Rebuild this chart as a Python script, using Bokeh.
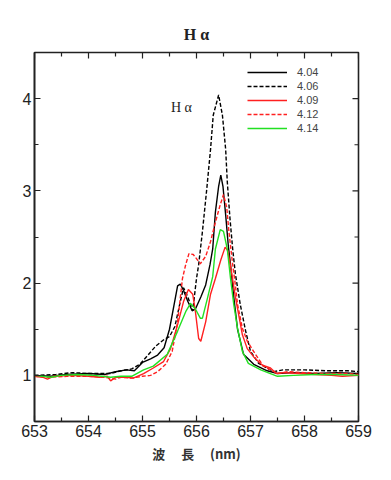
from bokeh.plotting import figure
from bokeh.models import (Range1d, FixedTicker, Legend, LegendItem, Label)
from bokeh.embed import file_html
from bokeh.resources import INLINE

# ---- data -------------------------------------------------------------
wl_404 = [653.0, 653.3, 653.6, 654.0, 654.3, 654.5, 654.7, 654.85, 655.0, 655.15,
          655.28, 655.4, 655.5, 655.58, 655.65, 655.7, 655.76, 655.84, 655.92, 655.98,
          656.08, 656.17, 656.25, 656.30, 656.35, 656.41, 656.45, 656.49, 656.54, 656.59,
          656.63, 656.69, 656.76, 656.87, 657.06, 657.31, 657.5, 657.8, 658.2, 658.6, 659.0]
in_404 = [1.00, 0.99, 1.01, 1.02, 1.01, 1.04, 1.06, 1.05, 1.14, 1.18,
          1.22, 1.30, 1.50, 1.75, 1.97, 1.99, 1.92, 1.80, 1.70, 1.72,
          1.85, 1.98, 2.20, 2.37, 2.77, 3.05, 3.17, 3.05, 2.74, 2.40,
          2.20, 1.85, 1.50, 1.23, 1.12, 1.05, 1.02, 1.03, 1.02, 1.03, 1.02]

wl_406 = [653.0, 653.4, 653.7, 654.0, 654.4, 654.6, 654.8, 654.95, 655.1, 655.25,
          655.4, 655.5, 655.6, 655.7, 655.76, 655.84, 655.93, 656.0, 656.04, 656.11,
          656.19, 656.26, 656.31, 656.41, 656.48, 656.54, 656.57, 656.62, 656.67, 656.72,
          656.81, 656.91, 657.0, 657.15, 657.43, 657.6, 658.0, 658.4, 658.8, 659.0]
in_406 = [1.00, 1.01, 1.03, 1.02, 1.02, 1.05, 1.07, 1.12, 1.22, 1.32,
          1.39, 1.42, 1.53, 1.80, 1.95, 1.85, 1.70, 2.05, 2.20, 2.56,
          3.02, 3.45, 3.82, 4.04, 3.82, 3.45, 3.10, 2.70, 2.37, 2.10,
          1.77, 1.48, 1.26, 1.13, 1.04, 1.06, 1.06, 1.05, 1.05, 1.04]

wl_409 = [653.0, 653.15, 653.24, 653.35, 653.7, 654.0, 654.2, 654.35, 654.41, 654.5,
          654.7, 654.83, 655.02, 655.2, 655.39, 655.52, 655.65, 655.76, 655.85, 655.93,
          655.98, 656.04, 656.08, 656.17, 656.26, 656.35, 656.45, 656.53, 656.58, 656.64,
          656.72, 656.85, 656.94, 657.06, 657.22, 657.37, 657.48, 657.6, 657.9, 658.2,
          658.5, 658.7, 659.0]
in_409 = [0.99, 0.98, 0.96, 0.99, 1.00, 0.99, 0.98, 0.99, 0.94, 0.98,
          0.98, 0.97, 1.02, 1.08, 1.15, 1.29, 1.55, 1.80, 1.93, 1.88,
          1.69, 1.40, 1.37, 1.58, 1.88, 2.05, 2.25, 2.39, 2.35, 2.15,
          1.85, 1.44, 1.29, 1.20, 1.11, 1.08, 1.02, 1.03, 1.02, 1.01,
          1.00, 0.99, 1.00]

wl_412 = [653.0, 653.3, 653.6, 654.0, 654.3, 654.5, 654.6, 654.8, 655.0, 655.15,
          655.28, 655.43, 655.55, 655.65, 655.74, 655.8, 655.86, 655.94, 656.02, 656.07,
          656.17, 656.26, 656.35, 656.44, 656.5, 656.56, 656.6, 656.67, 656.72, 656.76,
          656.85, 656.94, 657.09, 657.24, 657.5, 657.7, 658.0, 658.4, 658.8, 659.0]
in_412 = [0.99, 0.98, 0.99, 0.99, 0.98, 0.96, 0.98, 0.97, 0.99, 1.00,
          1.04, 1.12, 1.26, 1.58, 2.05, 2.20, 2.32, 2.31, 2.25, 2.21,
          2.29, 2.45, 2.66, 2.85, 2.96, 2.82, 2.56, 2.20, 1.98, 1.77,
          1.51, 1.37, 1.23, 1.10, 1.02, 1.04, 1.03, 1.02, 1.02, 1.01]

wl_414 = [653.0, 653.3, 653.5, 653.8, 654.1, 654.41, 654.6, 654.8, 655.02, 655.2,
          655.46, 655.65, 655.8, 655.89, 655.98, 656.07, 656.11, 656.2, 656.3, 656.35,
          656.44, 656.5, 656.57, 656.63, 656.69, 656.76, 656.85, 656.96, 657.19, 657.5,
          657.8, 658.2, 658.6, 659.0]
in_414 = [1.00, 0.98, 1.00, 1.01, 1.00, 0.98, 0.99, 0.99, 1.06, 1.10,
          1.23, 1.48, 1.69, 1.78, 1.72, 1.62, 1.62, 1.83, 2.07, 2.37,
          2.58, 2.56, 2.37, 2.05, 1.77, 1.51, 1.26, 1.13, 1.06, 0.99,
          1.00, 1.01, 1.01, 1.00]

series_labels = ["4.04", "4.06", "4.09", "4.12", "4.14"]
x_ticks = [653, 654, 655, 656, 657, 658, 659]
x_minor = [653.5, 654.5, 655.5, 656.5, 657.5, 658.5]
y_ticks = [1, 2, 3, 4]
y_minor = [1.5, 2.5, 3.5]
x_lo, x_hi = 653, 659
y_lo, y_hi = 0.5, 4.5

INK = "#222222"
W, H = 383, 472
BL, BR, BT, BB = 34, 25, 52, 51
frame_w = W - BL - BR
frame_h = H - BT - BB
# tick lengths (px) converted to data units for the top/right edges
dx_major = 6 * (x_hi - x_lo) / frame_w
dy_major = 6 * (y_hi - y_lo) / frame_h
dx_minor = 4 * (x_hi - x_lo) / frame_w
dy_minor = 4 * (y_hi - y_lo) / frame_h

# ---- figure -----------------------------------------------------------
p = figure(width=W, height=H, output_backend="svg", toolbar_location=None,
           x_range=Range1d(x_lo, x_hi), y_range=Range1d(y_lo, y_hi),
           min_border_left=BL, min_border_right=BR, min_border_top=BT,
           min_border_bottom=BB)
p.title.text = "H α"
p.title.align = "center"
p.title.standoff = 20
p.title.text_font = "Liberation Serif"
p.title.text_font_size = "16px"
p.title.text_font_style = "bold"
p.title.text_color = INK
p.grid.visible = False
p.outline_line_color = INK
p.outline_line_width = 1.6

xt = FixedTicker(ticks=x_ticks, minor_ticks=x_minor)
yt = FixedTicker(ticks=y_ticks, minor_ticks=y_minor)
p.xaxis.ticker = xt
p.yaxis.ticker = yt
for ax in (p.xaxis[0], p.yaxis[0]):
    ax.axis_line_width = 1.6
    ax.axis_line_color = INK
    ax.major_tick_in = 6
    ax.major_tick_out = 0
    ax.minor_tick_in = 4
    ax.minor_tick_out = 0
    ax.major_tick_line_width = 1.2
    ax.minor_tick_line_width = 1.2
    ax.major_tick_line_color = INK
    ax.minor_tick_line_color = INK
    ax.major_label_text_font = "Liberation Sans"
    ax.major_label_text_font_size = "16px"
    ax.major_label_text_color = INK
    ax.major_label_standoff = 3

p.xaxis.axis_label = "波　 長　 (nm)"
p.xaxis.axis_label_text_font = "Noto Sans CJK JP"
p.xaxis.axis_label_text_font_style = "bold"
p.xaxis.axis_label_text_font_size = "13px"
p.xaxis.axis_label_text_color = "#333333"
p.xaxis.axis_label_standoff = 4

# inward ticks on the top and right edges
p.segment(x0=x_ticks, y0=[y_hi] * len(x_ticks), x1=x_ticks,
          y1=[y_hi - dy_major] * len(x_ticks), line_color=INK, line_width=1.2)
p.segment(x0=x_minor, y0=[y_hi] * len(x_minor), x1=x_minor,
          y1=[y_hi - dy_minor] * len(x_minor), line_color=INK, line_width=1.2)
p.segment(x0=[x_hi] * len(y_ticks), y0=y_ticks, x1=[x_hi - dx_major] * len(y_ticks),
          y1=y_ticks, line_color=INK, line_width=1.2)
p.segment(x0=[x_hi] * len(y_minor), y0=y_minor, x1=[x_hi - dx_minor] * len(y_minor),
          y1=y_minor, line_color=INK, line_width=1.2)

# ---- lines -------------------------------------------------------------
r1 = p.line(wl_404, in_404, line_color="black", line_width=1.4)
r2 = p.line(wl_406, in_406, line_color="black", line_width=1.4, line_dash="4 2")
r3 = p.line(wl_409, in_409, line_color="#ff2020", line_width=1.4)
r4 = p.line(wl_412, in_412, line_color="#ff2020", line_width=1.4, line_dash="4 2")
r5 = p.line(wl_414, in_414, line_color="#22e022", line_width=1.4)

legend = Legend(items=[LegendItem(label=l, renderers=[r]) for l, r in
                       zip(series_labels, [r1, r2, r3, r4, r5])],
                location=(213, 286), padding=0, margin=0, spacing=0,
                glyph_width=40, glyph_height=14, label_height=14,
                label_standoff=10, label_text_font="Liberation Sans",
                label_text_font_size="11px", border_line_alpha=0,
                background_fill_alpha=0)
p.add_layout(legend)

p.add_layout(Label(x=655.72, y=3.9, text="H α", text_font="Liberation Serif",
                   text_font_size="14px", text_align="center",
                   text_baseline="middle", text_color=INK))

open("out.html", "w").write(file_html(p, INLINE))
